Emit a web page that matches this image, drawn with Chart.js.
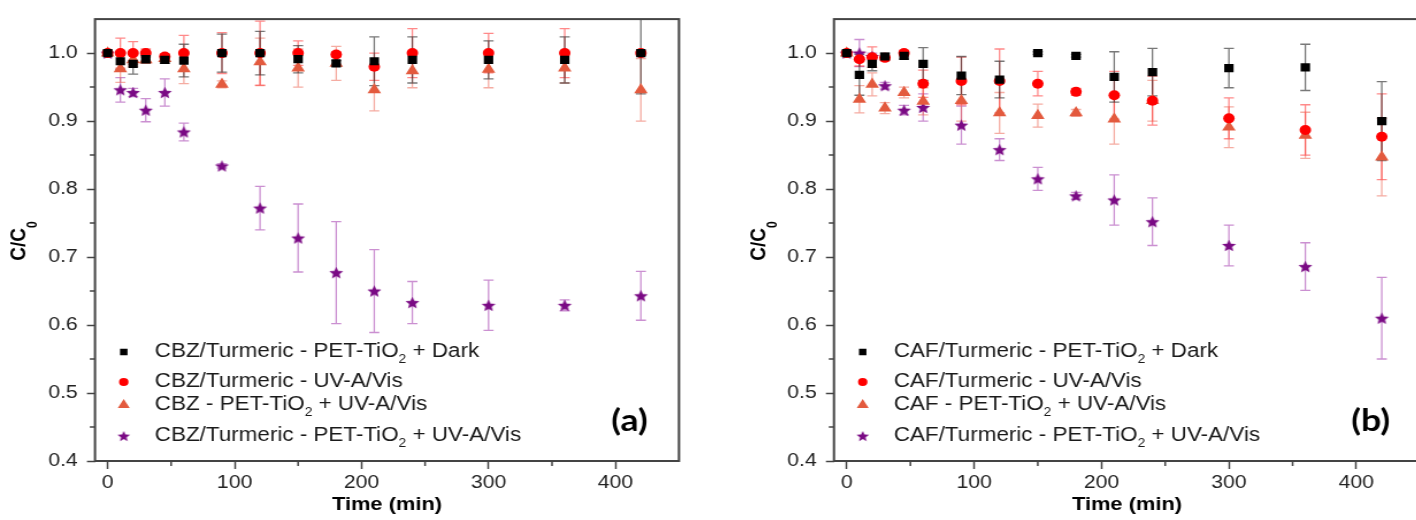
<!DOCTYPE html>
<html>
<head>
<meta charset="utf-8">
<script src="https://cdn.jsdelivr.net/npm/chart.js@4.4.1/dist/chart.umd.min.js"></script>
<style>
  html, body { margin: 0; padding: 0; background: #fff; width: 1416px; height: 520px; overflow: hidden; }
  .panel { position: absolute; top: 0; transform-origin: 0 0; transform: scaleX(1.15); }
  #panelA { left: 0; }
  #panelB { left: 740px; }
</style>
</head>
<body>
<div class="panel" id="panelA"><canvas id="chartA" width="616" height="520"></canvas></div>
<div class="panel" id="panelB"><canvas id="chartB" width="600" height="520"></canvas></div>
<script>
// sampling times (min), same for every series
const timeMin = [0, 10, 20, 30, 45, 60, 90, 120, 150, 180, 210, 240, 300, 360, 420];

// panel (a) - CBZ
const cbzDark     = [1.000, 0.988, 0.984, 0.991, 0.990, 0.989, 1.000, 1.000, 0.991, 0.985, 0.988, 0.990, 0.990, 0.990, 1.000];
const cbzDarkErr  = [0.003, 0.012, 0.015, 0.006, 0.005, 0.024, 0.028, 0.032, 0.020, 0.004, 0.036, 0.034, 0.028, 0.034, 0.060];
const cbzUv       = [1.000, 1.000, 1.000, 1.000, 0.995, 1.000, 1.000, 1.000, 1.000, 0.998, 0.980, 1.000, 1.000, 1.000, 1.000];
const cbzUvErr    = [0.003, 0.022, 0.017, 0.006, 0.004, 0.026, 0.030, 0.047, 0.018, 0.004, 0.020, 0.036, 0.029, 0.036, 0.003];
const cbzTio2     = [1.000, 0.977, 0.990, 0.990, 0.992, 0.977, 0.954, 0.987, 0.978, 0.985, 0.946, 0.974, 0.976, 0.978, 0.946];
const cbzTio2Err  = [0.003, 0.020, 0.010, 0.005, 0.005, 0.022, 0.005, 0.035, 0.028, 0.025, 0.031, 0.025, 0.027, 0.022, 0.046];
const cbzBoth     = [1.000, 0.946, 0.942, 0.916, 0.942, 0.884, 0.834, 0.772, 0.728, 0.677, 0.650, 0.633, 0.629, 0.629, 0.643];
const cbzBothErr  = [0.003, 0.018, 0.006, 0.017, 0.020, 0.013, 0.003, 0.032, 0.050, 0.075, 0.061, 0.031, 0.037, 0.008, 0.036];

// panel (b) - CAF
const cafDark     = [1.000, 0.968, 0.984, 0.995, 0.996, 0.984, 0.967, 0.961, 1.000, 0.996, 0.965, 0.972, 0.978, 0.979, 0.900];
const cafDarkErr  = [0.003, 0.030, 0.010, 0.005, 0.005, 0.024, 0.028, 0.027, 0.002, 0.002, 0.037, 0.035, 0.029, 0.034, 0.058];
const cafUv       = [1.000, 0.991, 0.994, 0.993, 1.000, 0.955, 0.959, 0.959, 0.955, 0.943, 0.938, 0.930, 0.904, 0.887, 0.877];
const cafUvErr    = [0.003, 0.010, 0.015, 0.004, 0.004, 0.020, 0.035, 0.047, 0.018, 0.005, 0.035, 0.036, 0.030, 0.037, 0.063];
const cafTio2     = [1.000, 0.932, 0.954, 0.919, 0.942, 0.929, 0.930, 0.912, 0.908, 0.912, 0.903, 0.930, 0.891, 0.879, 0.847];
const cafTio2Err  = [0.003, 0.020, 0.017, 0.008, 0.008, 0.020, 0.030, 0.030, 0.017, 0.005, 0.037, 0.030, 0.030, 0.034, 0.057];
const cafBoth     = [1.000, 1.000, 0.995, 0.952, 0.916, 0.920, 0.894, 0.858, 0.815, 0.790, 0.784, 0.752, 0.717, 0.686, 0.610];
const cafBothErr  = [0.003, 0.020, 0.005, 0.005, 0.007, 0.020, 0.028, 0.016, 0.017, 0.005, 0.037, 0.035, 0.030, 0.035, 0.060];

// legend texts, "_2" = subscript
const labelsA = ['CBZ/Turmeric - PET-TiO_2 + Dark', 'CBZ/Turmeric - UV-A/Vis', 'CBZ - PET-TiO_2 + UV-A/Vis', 'CBZ/Turmeric - PET-TiO_2 + UV-A/Vis'];
const labelsB = ['CAF/Turmeric - PET-TiO_2 + Dark', 'CAF/Turmeric - UV-A/Vis', 'CAF - PET-TiO_2 + UV-A/Vis', 'CAF/Turmeric - PET-TiO_2 + UV-A/Vis'];

const FONT = '"Liberation Sans", Arial, sans-serif';
const AXIS = '#444';

function makeStar(r, color) {
    const size = Math.ceil(r * 2) + 2;
    const c = document.createElement('canvas');
    c.width = size; c.height = size;
    const g = c.getContext('2d');
    g.fillStyle = color;
    g.beginPath();
    for (let i = 0; i < 10; i++) {
        const rr = i % 2 === 0 ? r : r * 0.45;
        const a = -Math.PI / 2 + i * Math.PI / 5;
        g.lineTo(size / 2 + rr * Math.cos(a), size / 2 + 0.6 + rr * Math.sin(a));
    }
    g.closePath();
    g.fill();
    return c;
}

const PURPLE = '#7a0a84';
const seriesStyle = [
    { shape: 'rect', r: 5.8, lr: 4.6, color: '#000000', err: 'rgba(30,30,30,0.6)' },
    { shape: 'circle', r: 5.0, lr: 4.1, color: '#ff0000', err: 'rgba(255,40,40,0.55)' },
    { shape: 'triangle', r: 6.8, lr: 6.0, color: '#e35a3e', err: 'rgba(235,90,70,0.5)' },
    { shape: makeStar(6.4, PURPLE), legendShape: makeStar(5.6, PURPLE), r: 7, lr: 6, color: PURPLE, err: 'rgba(175,85,185,0.65)' }
];

// text with subscripts: "TiO_2" -> TiO + small 2
function richWidth(ctx, text, size, weight) {
    let w = 0;
    text.split(/_(\d)/).forEach((part, i) => {
        ctx.font = weight + ' ' + (i % 2 ? Math.round(size * 0.62) : size) + 'px ' + FONT;
        w += ctx.measureText(part).width;
    });
    return w;
}
function drawRich(ctx, text, x, y, size, weight, subShift) {
    text.split(/_(\d)/).forEach((part, i) => {
        const sub = i % 2 === 1;
        ctx.font = weight + ' ' + (sub ? Math.round(size * 0.62) : size) + 'px ' + FONT;
        ctx.fillText(part, x, sub ? y + subShift : y);
        x += ctx.measureText(part).width;
    });
}

const panelPlugin = {
    id: 'panel',
    beforeDatasetsDraw(chart) {
        // error bars
        const { ctx, chartArea: a, scales: { x, y } } = chart;
        ctx.save();
        ctx.beginPath();
        ctx.rect(a.left, a.top, a.right - a.left, a.bottom - a.top);
        ctx.clip();
        chart.data.datasets.slice().reverse().forEach(ds => {
            ctx.strokeStyle = ds.errorColor;
            ctx.lineWidth = 1.3;
            ds.data.forEach((p, i) => {
                const e = ds.errors[i];
                const px = x.getPixelForValue(p.x);
                const y1 = y.getPixelForValue(p.y + e);
                const y2 = y.getPixelForValue(p.y - e);
                ctx.beginPath();
                ctx.moveTo(px, y1); ctx.lineTo(px, y2);
                ctx.moveTo(px - 4.4, y1); ctx.lineTo(px + 4.4, y1);
                ctx.moveTo(px - 4.4, y2); ctx.lineTo(px + 4.4, y2);
                ctx.stroke();
            });
        });
        ctx.restore();
    },
    afterDraw(chart, args, opts) {
        const { ctx, chartArea: a, scales: { x, y } } = chart;
        ctx.save();
        // frame
        ctx.strokeStyle = AXIS;
        ctx.lineWidth = 2;
        ctx.strokeRect(a.left, a.top, a.right - a.left, a.bottom - a.top);
        // minor ticks
        ctx.lineWidth = 1.5;
        ctx.beginPath();
        [0.45, 0.55, 0.65, 0.75, 0.85, 0.95].forEach(v => {
            const py = y.getPixelForValue(v);
            ctx.moveTo(a.left, py); ctx.lineTo(a.left - 4.5, py);
        });
        [50, 150, 250, 350].forEach(v => {
            const px = x.getPixelForValue(v);
            ctx.moveTo(px, a.bottom); ctx.lineTo(px, a.bottom + 5);
        });
        ctx.stroke();

        // legend inside the plot, lower left
        ctx.textBaseline = 'middle';
        ctx.textAlign = 'left';
        const rows = [-109, -79, -56, -25];
        chart.data.datasets.forEach((ds, k) => {
            const ry = a.bottom + rows[k];
            const st = seriesStyle[k];
            ctx.fillStyle = st.color;
            Chart.helpers.drawPoint(ctx, {
                pointStyle: st.legendShape || st.shape, radius: st.lr, rotation: 0, borderWidth: 0
            }, a.left + 25, ry);
            ctx.fillStyle = '#1a1a1a';
            drawRich(ctx, opts.labels[k], a.left + 52, ry, 19.5, 'normal', 8);
        });

        // panel tag
        ctx.fillStyle = '#000';
        ctx.textAlign = 'center';
        ctx.font = 'bold 31px Lato, "Open Sans", sans-serif';
        ctx.fillText(opts.tag, a.right - 43, a.bottom - 40);

        // x title
        ctx.font = 'bold 19px ' + FONT;
        ctx.textBaseline = 'middle';
        ctx.fillText('Time (min)', (a.left + a.right) / 2, 505);

        // y title, rotated
        ctx.translate(22, 241);
        ctx.rotate(-Math.PI / 2);
        ctx.textAlign = 'left';
        ctx.textBaseline = 'alphabetic';
        const t = 'C/C_0';
        const w = richWidth(ctx, t, 19, 'bold');
        drawRich(ctx, t, -w / 2, 0, 19, 'bold', 10);
        ctx.restore();
    }
};

function buildPanel(canvasId, series, labels, tag, plotLeft, plotRight) {
    const canvas = document.getElementById(canvasId);
    const datasets = series.map((s, k) => ({
        label: labels[k],
        data: timeMin.map((t, i) => ({ x: t, y: s[0][i] })),
        errors: s[1],
        errorColor: seriesStyle[k].err,
        pointStyle: seriesStyle[k].shape,
        pointRadius: seriesStyle[k].r,
        pointBackgroundColor: seriesStyle[k].color,
        pointBorderWidth: 0,
        showLine: false
    }));
    const tickFont = { family: FONT, size: 18.5 };
    new Chart(canvas, {
        type: 'scatter',
        data: { datasets },
        options: {
            responsive: false,
            animation: false,
            events: [],
            layout: { padding: { left: 0, top: 14, right: canvas.width - plotRight, bottom: 0 } },
            scales: {
                x: {
                    type: 'linear', min: -10, max: 450,
                    afterFit: s => { s.height = 59; },
                    ticks: { stepSize: 100, includeBounds: false, font: tickFont, color: '#222', padding: 3, maxRotation: 0 },
                    grid: { drawOnChartArea: false, tickLength: 8, tickWidth: 1.5, tickColor: AXIS },
                    border: { display: false }
                },
                y: {
                    type: 'linear', min: 0.4, max: 1.05,
                    afterFit: s => { s.width = plotLeft; },
                    ticks: { stepSize: 0.1, includeBounds: false, font: tickFont, color: '#222', padding: 8,
                        callback: v => v.toFixed(1) },
                    grid: { drawOnChartArea: false, tickLength: 7, tickWidth: 1.5, tickColor: AXIS },
                    border: { display: false }
                }
            },
            plugins: {
                legend: { display: false },
                tooltip: { enabled: false },
                panel: { tag: tag, labels: labels }
            }
        },
        plugins: [panelPlugin]
    });
}

// plot edges in canvas units (canvas is stretched 1.15x horizontally)
buildPanel('chartA',
    [[cbzDark, cbzDarkErr], [cbzUv, cbzUvErr], [cbzTio2, cbzTio2Err], [cbzBoth, cbzBothErr]],
    labelsA, '(a)', 82.6, 590.4);
buildPanel('chartB',
    [[cafDark, cafDarkErr], [cafUv, cafUvErr], [cafTio2, cafTio2Err], [cafBoth, cafBothErr]],
    labelsB, '(b)', 81.7, 591.3);
</script>
</body>
</html>
